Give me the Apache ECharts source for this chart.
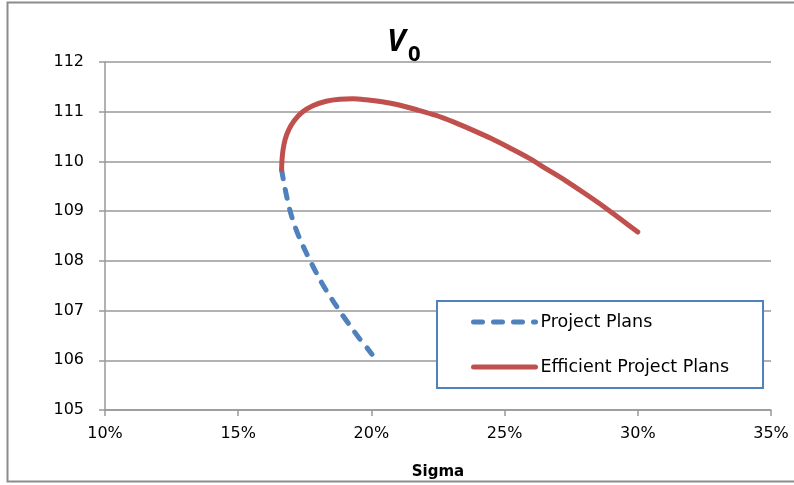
<!DOCTYPE html>
<html>
<head>
<meta charset="utf-8">
<script src="https://cdn.jsdelivr.net/npm/echarts@6/dist/echarts.min.js"></script>
<style>
  html, body { margin: 0; padding: 0; background: #fff; }
  #chart { width: 794px; height: 485px; }
</style>
</head>
<body>
<div id="chart"></div>
<script>
// Sigma (%) and V0 values for each curve
const projectSigma = [16.63, 16.72, 16.83, 16.96, 17.12, 17.30, 17.52, 17.76, 18.02, 18.30, 18.60, 18.90, 19.22, 19.55, 19.85, 20.02];
const projectV0    = [109.83, 109.56, 109.27, 108.98, 108.71, 108.46, 108.20, 107.94, 107.67, 107.41, 107.16, 106.92, 106.68, 106.44, 106.24, 106.12];

const efficientSigma = [16.63, 16.64, 16.68, 16.76, 16.90, 17.10, 17.40, 17.80, 18.30, 18.80, 19.30, 19.80, 20.40, 21.00, 21.70, 22.40, 23.10, 23.80, 24.50, 25.20, 25.90, 26.60, 27.30, 28.00, 28.70, 29.35, 30.00];
const efficientV0    = [109.83, 110.00, 110.22, 110.44, 110.64, 110.82, 110.99, 111.12, 111.21, 111.25, 111.26, 111.24, 111.20, 111.14, 111.04, 110.93, 110.79, 110.63, 110.46, 110.27, 110.07, 109.84, 109.61, 109.36, 109.10, 108.84, 108.58];

const xTicks = { min: 10, max: 35, step: 5 };
const yTicks = { min: 105, max: 112, step: 1 };

const seriesNames = ['Project Plans', 'Efficient Project Plans'];

const pairs = (xs, ys) => xs.map((x, i) => [x, ys[i]]);

const FONT = 'DejaVu Sans, sans-serif';
const TITLE_FONT = 'Open Sans, DejaVu Sans, sans-serif';
const GRID_GRAY = '#999999';
const BLUE = '#4F81BD';
const RED = '#C0504D';

const chart = echarts.init(document.getElementById('chart'));
chart.setOption({
  animation: false,
  backgroundColor: '#ffffff',
  grid: { left: 105, right: 23, top: 62, bottom: 74 },
  graphic: [
    {
      type: 'rect',
      shape: { x: 7.5, y: 2.5, width: 800, height: 479 },
      style: { fill: 'none', stroke: '#8c8c8c', lineWidth: 2 },
      silent: true
    },
    {
      type: 'text',
      left: 387, top: 27,
      style: { text: 'V', font: 'italic bold 31px ' + TITLE_FONT, fill: '#000' }
    },
    {
      type: 'text',
      left: 408, top: 44,
      style: { text: '0', font: 'bold 22px ' + TITLE_FONT, fill: '#000' }
    }
  ],
  legend: {
    orient: 'vertical',
    left: 437, top: 301,
    padding: [12, 34, 12, 34],
    itemGap: 27,
    itemWidth: 62,
    itemHeight: 5,
    itemTextGap: -3,
    borderColor: BLUE,
    borderWidth: 2,
    backgroundColor: '#ffffff',
    lineStyle: { width: 5 },
    itemStyle: { opacity: 0 },
    textStyle: { fontFamily: FONT, fontSize: 17.5, color: '#000' },
    data: seriesNames
  },
  xAxis: {
    type: 'value',
    min: xTicks.min, max: xTicks.max, interval: xTicks.step,
    name: 'Sigma',
    nameLocation: 'middle',
    nameGap: 55,
    nameTextStyle: { fontFamily: FONT, fontSize: 15, fontWeight: 'bold', color: '#000' },
    axisLine: { show: true, lineStyle: { color: GRID_GRAY, width: 1.5 } },
    axisTick: { show: true, inside: false, length: 6, lineStyle: { color: GRID_GRAY, width: 1.5 } },
    axisLabel: { formatter: '{value}%', margin: 16, fontFamily: FONT, fontSize: 16, color: '#000' },
    splitLine: { show: false }
  },
  yAxis: {
    type: 'value',
    min: yTicks.min, max: yTicks.max, interval: yTicks.step,
    axisLine: { show: true, lineStyle: { color: GRID_GRAY, width: 1.5 } },
    axisTick: { show: true, inside: false, length: 6, lineStyle: { color: GRID_GRAY, width: 1.5 } },
    axisLabel: { margin: 21, fontFamily: FONT, fontSize: 16, color: '#000' },
    splitLine: { show: true, lineStyle: { color: GRID_GRAY, width: 1.5 } }
  },
  series: [
    {
      name: seriesNames[0],
      type: 'line',
      smooth: 0.3,
      symbol: 'none',
      data: pairs(projectSigma, projectV0),
      lineStyle: { color: BLUE, width: 5, type: [9, 11], cap: 'round' },
      itemStyle: { color: BLUE },
      z: 3
    },
    {
      name: seriesNames[1],
      type: 'line',
      smooth: 0.3,
      symbol: 'none',
      data: pairs(efficientSigma, efficientV0),
      lineStyle: { color: RED, width: 5, cap: 'round' },
      itemStyle: { color: RED },
      z: 4
    }
  ]
});
</script>
</body>
</html>
